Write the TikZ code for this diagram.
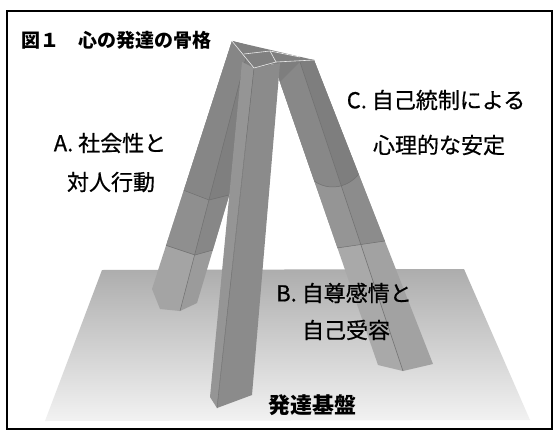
\documentclass[tikz,border=0pt]{standalone}
\usepackage{fontspec}
\newfontfamily\jp{Noto Sans CJK JP}
\newfontfamily\jpm{Noto Sans CJK JP}[FakeBold=0.6]
\definecolor{floortop}{HTML}{ADADAD}
\definecolor{floorbot}{HTML}{F2F2F2}
\definecolor{adark}{HTML}{868686}
\definecolor{amid}{HTML}{8F8F8F}
\definecolor{alight}{HTML}{A4A4A4}
\definecolor{bface}{HTML}{8B8B8B}
\definecolor{bside}{HTML}{959595}
\definecolor{cdark}{HTML}{7E7E7E}
\definecolor{cmid}{HTML}{8C8C8C}
\definecolor{clight}{HTML}{A2A2A2}
\definecolor{edge}{HTML}{707070}
\tikzset{
  label/.style={font=\jpm\fontsize{22}{26}\selectfont, inner sep=0pt, text=black},
  bandline/.style={draw=edge, line width=0.5pt},
  capline/.style={draw=white!85!gray, line width=0.6pt},
}
\begin{document}
\begin{tikzpicture}[x=1pt,y=-1pt]
\useasboundingbox (0,0) rectangle (556,436);
\fill[white] (0,0) rectangle (556,436);
% floor
\shade[top color=floortop, bottom color=floorbot] (102,270) -- (464,269) -- (530,420) -- (45,421) -- cycle;
% leg A
\begin{scope}
  \clip (232,41) -- (272,52) -- (197,303) -- (180,311) -- (160,309) -- (152,289) -- cycle;
  \fill[alight] (100,30) rectangle (300,330);
  \fill[amid] (100,30) -- (300,30) -- (300,250) -- (213,250) -- (195,255) -- (165,245) -- (100,245) -- cycle;
  \fill[adark] (100,30) -- (300,30) -- (300,195) -- (229,195) -- (209,200) -- (183,190) -- (100,190) -- cycle;
  \fill[black, opacity=0.05] (248,50) -- (300,50) -- (300,330) -- (180,311) -- cycle;
  \draw[bandline] (248,50) -- (180,311);
  \draw[bandline] (183,190) -- (209,200) -- (229,195);
  \draw[bandline] (165,245) -- (195,255) -- (213,250);
\end{scope}
% leg C
\begin{scope}
  \clip (272,55) -- (314,60) -- (433,364) -- (403,371) -- (378,365) -- (280,82) -- cycle;
  \fill[clight] (260,40) rectangle (450,380);
  \fill[cmid] (260,40) -- (450,40) -- (450,241) -- (385,241) -- (337,248) -- (260,248) -- cycle;
  \fill[cdark] (260,40) -- (450,40) -- (450,175) -- (358,175) .. controls (345,190) and (325,190) .. (313,180) -- (260,180) -- cycle;
  \fill[white, opacity=0.08] (280,82) -- (300,62) -- (403,371) -- (378,365) -- cycle;
  \draw[bandline] (300,62) -- (403,371);
  \draw[bandline] (358,175) .. controls (345,190) and (325,190) .. (313,180);
  \draw[bandline] (337,248) -- (385,241);
\end{scope}
% leg B
\fill[bside] (242,62) -- (254,68) -- (217,408) -- (210,397) -- cycle;
\fill[bface] (254,68) -- (280,63) -- (252,395) -- (217,408) -- cycle;
\draw[bandline] (254,68) -- (217,408);
% cap
\fill[gray] (232,41) -- (314,60) -- (280,63) -- (254,68) -- cycle;
\draw[capline] (232,41) -- (254,68) -- (276,62) -- (314,60);
\draw[capline] (244,54) -- (270,51) -- (276,62);
\draw[capline] (270,51) -- (300,57);
% frame
\draw[line width=1.8pt] (7,11) rectangle (552,429);
% texts
\node[label, anchor=west, font=\jp\bfseries\fontsize{19}{22}\selectfont] (title) at (21,40) {図１　心の発達の骨格};
\node[label] (a1) at (110,143) {A. 社会性と};
\node[label] (a2) at (111,182) {対人行動};
\node[label] (c1) at (436,100) {C. 自己統制による};
\node[label] (c2) at (439,145) {心理的な安定};
\node[label] (b1) at (344,293) {B. 自尊感情と};
\node[label] (b2) at (346,330) {自己受容};
\node[label, font=\jp\bfseries\fontsize{22}{26}\selectfont] (base) at (312,405) {発達基盤};
\end{tikzpicture}
\end{document}
